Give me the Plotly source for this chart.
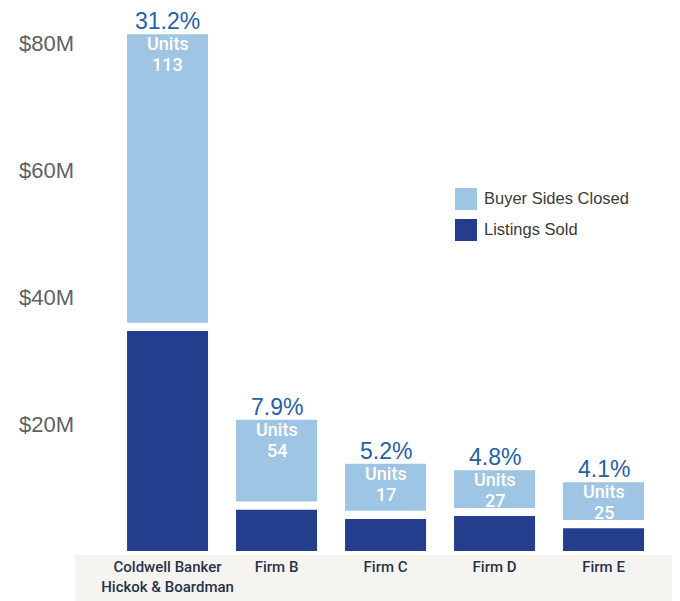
import plotly.graph_objects as go

# ---- data ----
firms = ["Coldwell Banker<br>Hickok & Boardman", "Firm B", "Firm C", "Firm D", "Firm E"]
listings_sold = [34.7, 6.5, 5.05, 5.5, 3.6]      # $M, dark segment
buyer_sides = [45.5, 12.9, 7.4, 5.95, 5.95]      # $M, light segment
units = [113, 54, 17, 27, 25]
share = ["31.2%", "7.9%", "5.2%", "4.8%", "4.1%"]
y_ticks = [20, 40, 60, 80]
y_tick_text = ["$20M", "$40M", "$60M", "$80M"]

# ---- style ----
W, H = 680, 601
OFF = 8  # page offset of the figure in the screenshot
# target screen geometry of the plot area
SL, SR, ST, SB = 75, 672, 12, 551
ML, MT = SL - OFF, ST - OFF
MR, MB = W - (SR - OFF), H - (SB - OFF)
GAP = 1.3  # visual white gap between segments ($M)
DARK = "#243d8c"
LIGHT = "#9fc5e4"
PCT_BLUE = "#2660a8"
FONT = "Liberation Sans, Arial, sans-serif"
MED = "Roboto, Liberation Sans, Arial, sans-serif"

pw, ph = SR - SL, SB - ST
def px(x):
    return (x - SL) / pw
def py(y):
    return (SB - y) / ph

light_base = [l + GAP for l in listings_sold]
tops = [b + v for b, v in zip(light_base, buyer_sides)]

fig = go.Figure()
fig.add_trace(go.Bar(x=firms, y=listings_sold, marker_color=DARK, width=0.743,
                     name="Listings Sold", marker_line_width=0, hoverinfo="skip"))
fig.add_trace(go.Bar(x=firms, y=buyer_sides, base=light_base, marker_color=LIGHT,
                     width=0.743, name="Buyer Sides Closed", marker_line_width=0,
                     hoverinfo="skip"))

annotations = []
for f, t, u, s in zip(firms, tops, units, share):
    annotations.append(dict(x=f, y=t, xref="x", yref="y", text=s, showarrow=False,
                            yanchor="bottom", yshift=-2,
                            font=dict(family=FONT, size=23, color=PCT_BLUE)))
    annotations.append(dict(x=f, y=t, xref="x", yref="y", text="Units",
                            showarrow=False, yanchor="top", yshift=3,
                            font=dict(family=MED, size=18, weight=500, color="white")))
    annotations.append(dict(x=f, y=t, xref="x", yref="y", text=str(u),
                            showarrow=False, yanchor="top", yshift=-18,
                            font=dict(family=MED, size=18, weight=500, color="white")))

# custom legend
shapes = [
    dict(type="rect", xref="paper", yref="paper", x0=0, x1=1, y0=py(620), y1=py(555),
         fillcolor="#f6f4f1", line_width=0, layer="below"),
    dict(type="rect", xref="paper", yref="paper", x0=px(455), x1=px(477),
         y0=py(210), y1=py(188), fillcolor=LIGHT, line_width=0),
    dict(type="rect", xref="paper", yref="paper", x0=px(455), x1=px(477),
         y0=py(241), y1=py(219), fillcolor=DARK, line_width=0),
]
for label, yc in [("Buyer Sides Closed", 198), ("Listings Sold", 229)]:
    annotations.append(dict(x=px(482), y=py(yc), xref="paper", yref="paper", text=label,
                            showarrow=False, xanchor="left", yanchor="middle",
                            font=dict(family=FONT, size=16.5, color="#3a3a3a")))

fig.update_layout(
    width=W, height=H,
    margin=dict(l=ML, r=MR, t=MT, b=MB),
    paper_bgcolor="white", plot_bgcolor="white",
    showlegend=False, barmode="overlay",
    annotations=annotations, shapes=shapes,
    font=dict(family=FONT),
)
fig.update_xaxes(range=[-0.849, 4.628], showgrid=False, zeroline=False, showline=False,
                 ticks="", tickfont=dict(family=MED, size=15, weight=500, color="#27334a"),
                 ticklabelstandoff=5)
fig.update_yaxes(range=[0, 85], tickvals=y_ticks, ticktext=y_tick_text, showgrid=False,
                 zeroline=False, showline=False, ticks="",
                 tickfont=dict(family=FONT, size=22, color="#5f6166"))

fig.write_html("out.html")
